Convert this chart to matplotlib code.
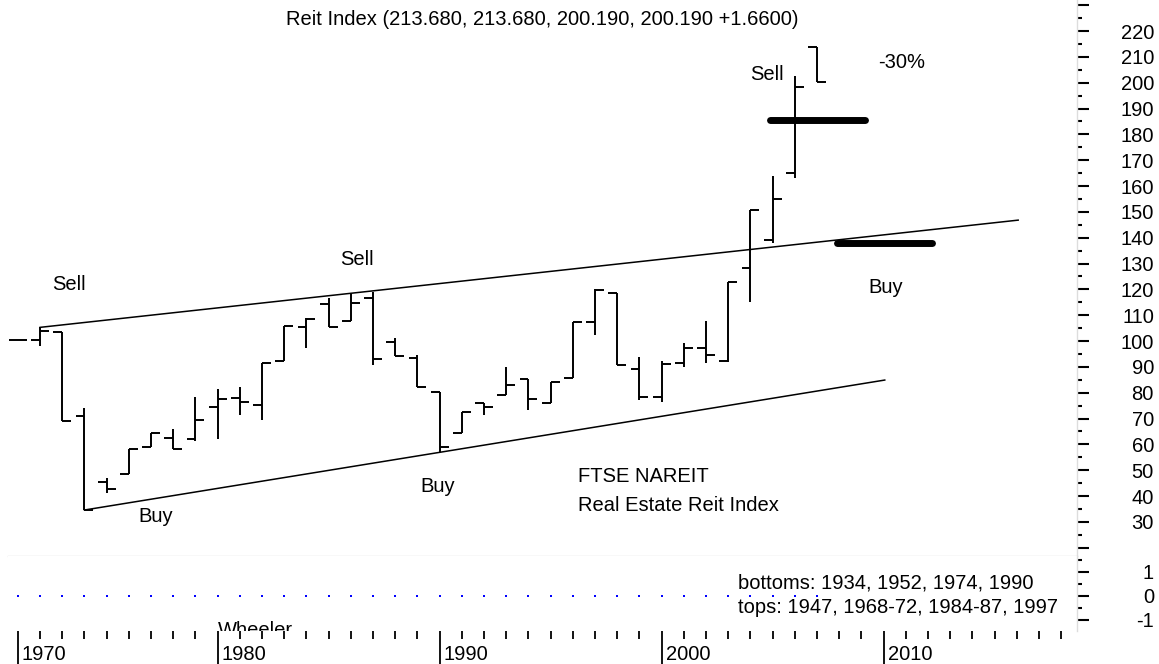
import matplotlib
matplotlib.use("Agg")
import matplotlib.pyplot as plt
import matplotlib.transforms as mtransforms

plt.rcParams["font.family"] = ["Liberation Sans", "DejaVu Sans"]
FS = 14.5
GRID_GRAY = "#dddddd"

# annual bars (open, high, low, close)
YEARS = list(range(1971, 2008))
OPEN = [100.3, 100.4, 103.5, 71.0, 45.4, 48.5, 59.0, 62.5, 62.0, 74.5,
        78.0, 75.2, 92.4, 105.3, 114.3, 107.7, 116.6, 99.6, 93.4, 80.4,
        64.4, 76.0, 79.1, 85.2, 75.9, 85.7, 107.2, 118.5, 89.0, 78.5,
        91.4, 97.4, 92.3, 128.1, 139.1, 165.1, 213.68]
HIGH = [100.3, 105.3, 103.5, 74.0, 47.0, 58.2, 64.5, 66.0, 78.3, 81.4,
        82.3, 91.5, 105.8, 108.9, 116.6, 118.2, 119.0, 101.2, 94.6, 80.4,
        72.6, 76.0, 89.9, 85.3, 84.3, 107.5, 120.0, 118.5, 93.9, 92.3,
        99.3, 107.7, 123.0, 150.7, 164.0, 202.7, 213.68]
LOW = [100.3, 98.1, 69.2, 34.6, 41.0, 48.5, 58.9, 58.2, 61.3, 62.0,
       71.4, 69.4, 92.4, 97.3, 105.4, 107.7, 90.7, 94.2, 82.3, 57.2,
       64.3, 71.4, 79.0, 73.3, 75.9, 85.7, 102.3, 90.7, 77.2, 76.5,
       89.8, 91.4, 92.0, 115.2, 137.8, 163.2, 200.19]
CLOSE = [100.3, 104.0, 69.2, 34.6, 42.7, 58.2, 64.4, 58.2, 69.4, 77.6,
         76.5, 91.4, 105.8, 108.5, 105.4, 114.7, 93.0, 94.2, 82.3, 59.1,
         72.6, 74.6, 83.0, 77.4, 84.3, 107.2, 119.7, 90.7, 78.5, 91.0,
         97.4, 94.6, 123.0, 150.6, 154.8, 198.4, 200.19]

# trend channel and target levels
UPPER_X = [1972.0, 2016.06]
UPPER_Y = [105.3, 146.8]
LOWER_X = [1974.0, 2010.05]
LOWER_Y = [34.6, 84.9]
TARGET_X = [2004.88, 2009.16]
TARGET_Y = [185.5, 185.5]
SUPPORT_X = [2007.91, 2012.16]
SUPPORT_Y = [137.8, 137.8]

# oscillator panel (flat zero line)
OSC_YEARS = YEARS
OSC_VALUES = [0] * len(YEARS)

PRICE_MAJOR = list(range(20, 240, 10))
PRICE_LABELED = list(range(30, 230, 10))
PRICE_MINOR = [v + 5 for v in range(20, 230, 10)]
OSC_MAJOR = [-1, 0, 1]
OSC_MINOR = [-0.5, 0.5, 1.5]
TICK_YEARS = list(range(1971, 2019))
LABEL_POS = [1971, 1980, 1990, 2000, 2010]
LABEL_TXT = ["1970", "1980", "1990", "2000", "2010"]

XLIM = (1970.554, 2018.71)
W, H = 1159, 664

fig = plt.figure(figsize=(W / 100, H / 100), dpi=100)


def px_axes(x0, y0, x1, y1):
    return fig.add_axes([x0 / W, 1 - y1 / H, (x1 - x0) / W, (y1 - y0) / H])


ax = px_axes(8, 0, 1077, 556)
ax2 = px_axes(8, 556, 1077, 631)

# --- price bars
half = 0.4
ax.vlines(YEARS, LOW, HIGH, color="black", lw=1.4)
ax.hlines(OPEN, [y - half for y in YEARS], YEARS, color="black", lw=1.4)
ax.hlines(CLOSE, YEARS, [y + half for y in YEARS], color="black", lw=1.4)

ax.plot(UPPER_X, UPPER_Y, color="black", lw=1.1)
ax.plot(LOWER_X, LOWER_Y, color="black", lw=1.1)
ax.plot(TARGET_X, TARGET_Y, color="black", lw=5, solid_capstyle="round")
ax.plot(SUPPORT_X, SUPPORT_Y, color="black", lw=5, solid_capstyle="round")

ax.set_xlim(*XLIM)
ax.set_ylim(16.8, 232.0)

txt = dict(fontsize=FS, va="baseline", ha="left")
ax.text(1972.54, 119.7, "Sell", **txt)
ax.text(1985.51, 129.4, "Sell", **txt)
ax.text(2003.98, 201.0, "Sell", **txt)
ax.text(1976.41, 30.0, "Buy", **txt)
ax.text(1989.11, 41.4, "Buy", **txt)
ax.text(2009.29, 118.6, "Buy", **txt)
ax.text(2009.74, 205.6, "-30%", **txt)
ax.text(1996.23, 45.4, "FTSE NAREIT", **txt)
ax.text(1996.23, 34.2, "Real Estate Reit Index", **txt)

fig.text(542 / W, 1 - 25 / H, "Reit Index (213.680, 213.680, 200.190, 200.190 +1.6600)",
         fontsize=FS, ha="center", va="baseline")

# --- oscillator panel
ax2.plot(OSC_YEARS, OSC_VALUES, ls="none", marker="s", ms=1.6, mew=0, color="blue")
ax2.set_xlim(*XLIM)
ax2.set_ylim(-1.48, 1.66)
ax2.text(2003.44, 0.28, "bottoms: 1934, 1952, 1974, 1990", **txt)
ax2.text(2003.44, -0.74, "tops: 1947, 1968-72, 1984-87, 1997", **txt)
ax2.text(1980.0, -1.70, "Wheeler", fontsize=FS, ha="left", va="baseline", clip_on=True)

# --- spines and ticks
for a in (ax, ax2):
    for side in ("left", "top"):
        a.spines[side].set_visible(False)
    a.spines["right"].set_color(GRID_GRAY)
    a.spines["right"].set_linewidth(1.0)
    a.yaxis.tick_right()
ax.spines["bottom"].set_color(GRID_GRAY)
ax.spines["bottom"].set_linewidth(1.0)
ax2.spines["bottom"].set_visible(False)

ax.set_xticks([])
ax.set_yticks(PRICE_MAJOR)
ax.set_yticklabels([str(v) if v in PRICE_LABELED else "" for v in PRICE_MAJOR])
ax.set_yticks(PRICE_MINOR, minor=True)

ax2.set_yticks(OSC_MAJOR)
ax2.set_yticklabels([str(v) for v in OSC_MAJOR])
ax2.set_yticks(OSC_MINOR, minor=True)

pad_pt = (1154 - 1077 - 12) * 0.72
for a in (ax, ax2):
    a.tick_params(axis="y", which="major", direction="out", length=12 * 0.72,
                  width=1.5, colors="black", pad=pad_pt, labelsize=FS)
    a.tick_params(axis="y", which="minor", direction="out", length=5 * 0.72,
                  width=1.5, colors="black")
    for lbl in a.get_yticklabels():
        lbl.set_horizontalalignment("right")

ax2.set_xticks(LABEL_POS)
ax2.set_xticklabels([""] * len(LABEL_POS))
ax2.set_xticks(TICK_YEARS, minor=True)
ax2.tick_params(axis="x", which="major", direction="out", length=33 * 0.72,
                width=1.3, colors="black")
ax2.tick_params(axis="x", which="minor", direction="out", length=8 * 0.72,
                width=1.3, colors="black")

lbl_trans = mtransforms.offset_copy(
    mtransforms.blended_transform_factory(ax2.transData, ax2.transAxes),
    fig=fig, x=4, y=0, units="dots")
for pos, s in zip(LABEL_POS, LABEL_TXT):
    ax2.text(pos, (631 - 660) / 75, s, transform=lbl_trans, fontsize=FS,
             ha="left", va="baseline", clip_on=False)

fig.savefig("out.png", dpi=100)
